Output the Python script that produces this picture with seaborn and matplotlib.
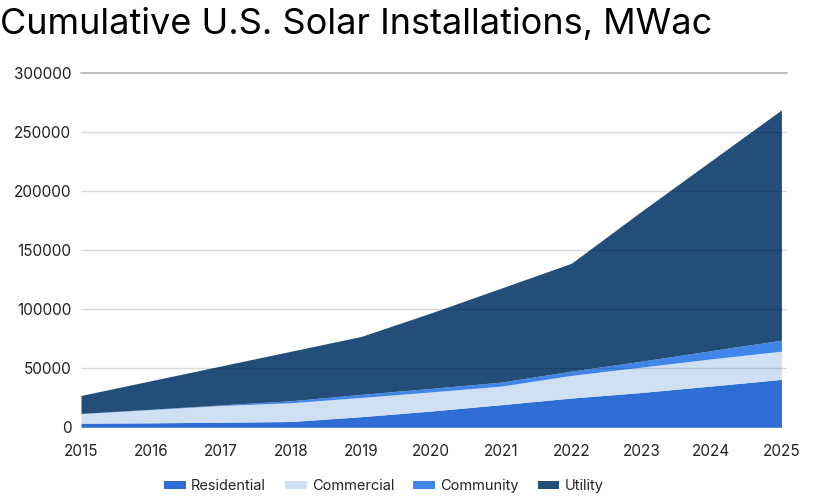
import matplotlib
matplotlib.use("Agg")
import matplotlib.pyplot as plt
import seaborn as sns

years = [2015, 2016, 2017, 2018, 2019, 2020, 2021, 2022, 2023, 2024, 2025]
residential = [3500, 3800, 4300, 4900, 9000, 13800, 19200, 24800, 29500, 35000, 40600]
commercial = [8100, 11200, 14200, 15900, 16300, 16200, 15700, 19200, 21500, 23000, 23900]
community = [200, 300, 500, 1700, 2600, 3000, 3400, 3600, 5000, 7000, 9300]
utility = [15200, 24200, 33000, 42000, 49100, 64000, 79700, 91400, 127000, 161000, 195200]
series_names = ["Residential", "Commercial", "Community", "Utility"]
colors = ["#2E6ED4", "#CFE0F2", "#3F86E8", "#234E7A"]

sns.set_theme(style="white")
plt.rcParams["font.family"] = ["Inter", "DejaVu Sans"]

fig = plt.figure(figsize=(8.2, 5), dpi=100)
ax = fig.add_axes([0.0988, 0.1454, 0.8610, 0.708])

ax.stackplot(years, residential, commercial, community, utility,
             labels=series_names, colors=colors, linewidth=0)

ax.set_xlim(2015, 2025.08)
ax.set_ylim(0, 300000)
ax.set_yticks(range(0, 300001, 50000))
ax.set_xticks(years)
ax.set_xticklabels([str(y) for y in years])

# gridlines drawn on top of the areas
for v in range(50000, 300000, 50000):
    ax.axhline(v, color="black", alpha=0.14, linewidth=1, zorder=5)
ax.axhline(300000, color="#b3b3b3", linewidth=1.2, zorder=5, clip_on=False)

for s in ax.spines.values():
    s.set_visible(False)
ax.tick_params(axis="both", length=0, labelsize=11, colors="#222222")
ax.tick_params(axis="y", pad=7)
ax.tick_params(axis="x", pad=12)

fig.text(0.0, 0.985, "Cumulative U.S. Solar Installations, MWac",
         fontsize=26, color="black", ha="left", va="top")

fig.legend(loc="lower center", bbox_to_anchor=(0.468, -0.012), ncol=4, frameon=False,
           fontsize=10.5, handlelength=1.5, handleheight=0.5, columnspacing=1.3,
           handletextpad=0.35)

plt.savefig("out.png", dpi=100)
plt.close()
